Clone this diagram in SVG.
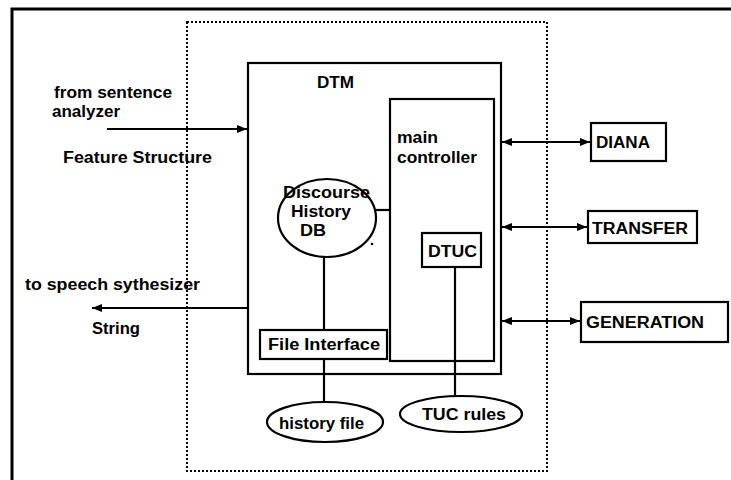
<svg xmlns="http://www.w3.org/2000/svg" width="731" height="480" viewBox="0 0 731 480">
<style>
  .box { fill: none; stroke: #000; stroke-width: 2.2; }
  .frame { fill: none; stroke: #000; stroke-width: 3; }
  .dotted { fill: none; stroke: #000; stroke-width: 2; stroke-dasharray: 2 2; }
  .line { fill: none; stroke: #000; stroke-width: 2.2; }
  .t { font-family: "Liberation Sans", Arial, sans-serif; font-weight: bold; font-size: 16px; fill: #000; }
</style>
<defs>
  <marker id="ah" viewBox="0 0 10 8" refX="10" refY="4" markerWidth="10" markerHeight="8" markerUnits="userSpaceOnUse" orient="auto-start-reverse">
    <path d="M0,0 L10,4 L0,8 Z" fill="#000"/>
  </marker>
</defs>
<rect width="731" height="480" fill="#fff"/>
<g id="frame">
  <path class="frame" d="M12,480 L12,9 L731,9"/>
  <rect class="dotted" x="187" y="22" width="360" height="449"/>
</g>
<g id="labels">
  <text class="t" x="54" y="98" textLength="118" lengthAdjust="spacingAndGlyphs">from sentence</text>
  <text class="t" x="52" y="117" textLength="68" lengthAdjust="spacingAndGlyphs">analyzer</text>
  <text class="t" x="63" y="163" textLength="149" lengthAdjust="spacingAndGlyphs">Feature Structure</text>
  <text class="t" x="25" y="290" textLength="175" lengthAdjust="spacingAndGlyphs">to speech sythesizer</text>
  <text class="t" x="92" y="334" textLength="48" lengthAdjust="spacingAndGlyphs">String</text>
</g>
<g id="dtm">
  <rect class="box" x="248" y="63" width="253" height="311"/>
  <text class="t" x="317" y="88" textLength="37" lengthAdjust="spacingAndGlyphs">DTM</text>
</g>
<g id="main-controller">
  <rect class="box" x="390" y="99" width="104" height="262"/>
  <text class="t" x="397" y="143" textLength="41" lengthAdjust="spacingAndGlyphs">main</text>
  <text class="t" x="397" y="163" textLength="80" lengthAdjust="spacingAndGlyphs">controller</text>
</g>
<g id="discourse-history-db">
  <ellipse class="box" cx="327" cy="218" rx="49" ry="39"/>
  <text class="t" x="283" y="198" textLength="87" lengthAdjust="spacingAndGlyphs">Discourse</text>
  <text class="t" x="291" y="217" textLength="60" lengthAdjust="spacingAndGlyphs">History</text>
  <text class="t" x="300" y="236" textLength="26" lengthAdjust="spacingAndGlyphs">DB</text>
</g>
<g id="dtuc">
  <rect class="box" x="422" y="233" width="59" height="34"/>
  <text class="t" x="428" y="257" textLength="49" lengthAdjust="spacingAndGlyphs">DTUC</text>
</g>
<g id="file-interface">
  <rect class="box" x="260" y="330" width="127" height="29"/>
  <text class="t" x="268" y="350" textLength="112" lengthAdjust="spacingAndGlyphs">File Interface</text>
</g>
<g id="history-file">
  <ellipse class="box" cx="325" cy="422" rx="58" ry="20"/>
  <text class="t" x="279" y="429" textLength="85" lengthAdjust="spacingAndGlyphs">history file</text>
</g>
<g id="tuc-rules">
  <ellipse class="box" cx="461" cy="414" rx="61" ry="18"/>
  <text class="t" x="422" y="420" textLength="84" lengthAdjust="spacingAndGlyphs">TUC rules</text>
</g>
<g id="diana">
  <rect class="box" x="591" y="123" width="75" height="38"/>
  <text class="t" x="596" y="148" textLength="54" lengthAdjust="spacingAndGlyphs">DIANA</text>
</g>
<g id="transfer">
  <rect class="box" x="588" y="211" width="109" height="32"/>
  <text class="t" x="592" y="234" textLength="96" lengthAdjust="spacingAndGlyphs">TRANSFER</text>
</g>
<g id="generation">
  <rect class="box" x="581" y="302" width="147" height="40"/>
  <text class="t" x="586" y="328" textLength="118" lengthAdjust="spacingAndGlyphs">GENERATION</text>
</g>
<g id="connectors">
  <line class="line" x1="107" y1="129" x2="247" y2="129" marker-end="url(#ah)"/>
  <line class="line" x1="248" y1="308" x2="92" y2="308" marker-end="url(#ah)"/>
  <line class="line" x1="502" y1="142" x2="590" y2="142" marker-start="url(#ah)" marker-end="url(#ah)"/>
  <line class="line" x1="502" y1="227" x2="587" y2="227" marker-start="url(#ah)" marker-end="url(#ah)"/>
  <line class="line" x1="502" y1="321" x2="580" y2="321" marker-start="url(#ah)" marker-end="url(#ah)"/>
  <line class="line" x1="376" y1="210" x2="390" y2="210"/>
  <line class="line" x1="324" y1="257" x2="324" y2="330"/>
  <line class="line" x1="324" y1="359" x2="324" y2="402"/>
  <line class="line" x1="455" y1="267" x2="455" y2="396"/>
  <circle cx="372" cy="244" r="1.3" fill="#000"/>
</g>
</svg>
